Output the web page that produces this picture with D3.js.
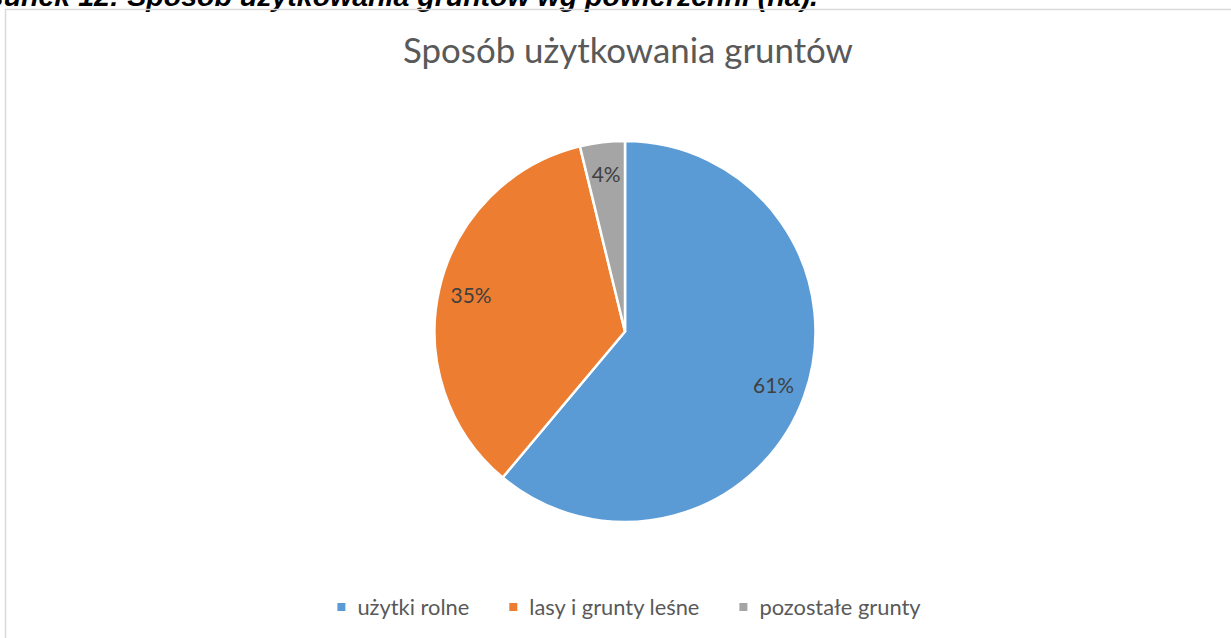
<!DOCTYPE html>
<html><head><meta charset="utf-8">
<script src="https://cdn.jsdelivr.net/npm/d3@7"></script>
<style>html,body{margin:0;padding:0;background:#fff;overflow:hidden}</style>
</head><body>
<script>
const categories = ["użytki rolne", "lasy i grunty leśne", "pozostałe grunty"];
const values = [61.1, 35.1, 3.8];
const colors = ["#5B9BD5", "#ED7D31", "#A5A5A5"];
const title = "Sposób użytkowania gruntów";
const caption = "Rysunek 12: Sposób użytkowania gruntów wg powierzchni (ha).";

const W = 1231, H = 638;
const svg = d3.select("body").append("svg").attr("width", W).attr("height", H);
const font = "Lato, 'Open Sans', sans-serif";

function fitSize(text, family, weight, style, targetW) {
  const t = svg.append("text").attr("font-family", family).attr("font-weight", weight)
    .attr("font-style", style).attr("font-size", 100).text(text);
  const w = t.node().getComputedTextLength();
  t.remove();
  return 100 * targetW / w;
}

// caption (cut off at top, as in the reference)
const capFam = "'Liberation Sans', Arial, sans-serif";
const capSize = fitSize("Sposób użytkowania gruntów wg powierzchni (ha).", capFam, "bold", "italic", 691);
svg.append("text").attr("x", 818).attr("y", 5.5).attr("text-anchor", "end")
  .attr("font-family", capFam).attr("font-weight", "bold").attr("font-style", "italic")
  .attr("font-size", capSize).attr("fill", "#000").text(caption);

// chart border
svg.append("rect").attr("x", 5.5).attr("y", 9.5).attr("width", 2000).attr("height", 2000)
  .attr("fill", "none").attr("stroke", "#D9D9D9").attr("stroke-width", 1.5);

// title
const tSize = fitSize(title, font, "normal", "normal", 450);
svg.append("text").attr("x", 628).attr("y", 63).attr("text-anchor", "middle")
  .attr("font-family", font).attr("font-size", tSize).attr("fill", "#595959").text(title);

// pie
const cx = 625, cy = 331.5, r = 190.5;
const total = d3.sum(values);
const pie = d3.pie().sort(null).value(d => d)(values);
const arc = d3.arc().innerRadius(0).outerRadius(r);
const g = svg.append("g").attr("transform", `translate(${cx},${cy})`);
g.selectAll("path").data(pie).join("path")
  .attr("d", arc).attr("fill", (d, i) => colors[i])
  .attr("stroke", "#fff").attr("stroke-width", 2.5).attr("stroke-linejoin", "round");

const labelArc = d3.arc().innerRadius(r * 0.83).outerRadius(r * 0.83);
const lSize = fitSize("61%", font, "normal", "normal", 41);
g.selectAll("text.lbl").data(pie).join("text").attr("class", "lbl")
  .attr("transform", d => `translate(${labelArc.centroid(d)})`)
  .attr("text-anchor", "middle").attr("dy", "0.35em")
  .attr("font-family", font).attr("font-size", lSize).attr("fill", "#404040")
  .text(d => Math.round(d.value / total * 100) + "%");

// legend
const legSize = fitSize(categories[0], font, "normal", "normal", 112);
const leg = svg.append("g");
const widths = categories.map(c => {
  const t = svg.append("text").attr("font-family", font).attr("font-size", legSize).text(c);
  const w = t.node().getComputedTextLength(); t.remove(); return w;
});
const sq = 8, gapSq = 12, gapItem = 40;
const totalW = d3.sum(widths) + categories.length * (sq + gapSq) + gapItem * (categories.length - 1);
let x = 629 - totalW / 2;
categories.forEach((c, i) => {
  leg.append("rect").attr("x", x).attr("y", 603).attr("width", sq).attr("height", sq).attr("fill", colors[i]);
  leg.append("text").attr("x", x + sq + gapSq).attr("y", 615)
    .attr("font-family", font).attr("font-size", legSize).attr("fill", "#595959").text(c);
  x += sq + gapSq + widths[i] + gapItem;
});
</script>
</body></html>
